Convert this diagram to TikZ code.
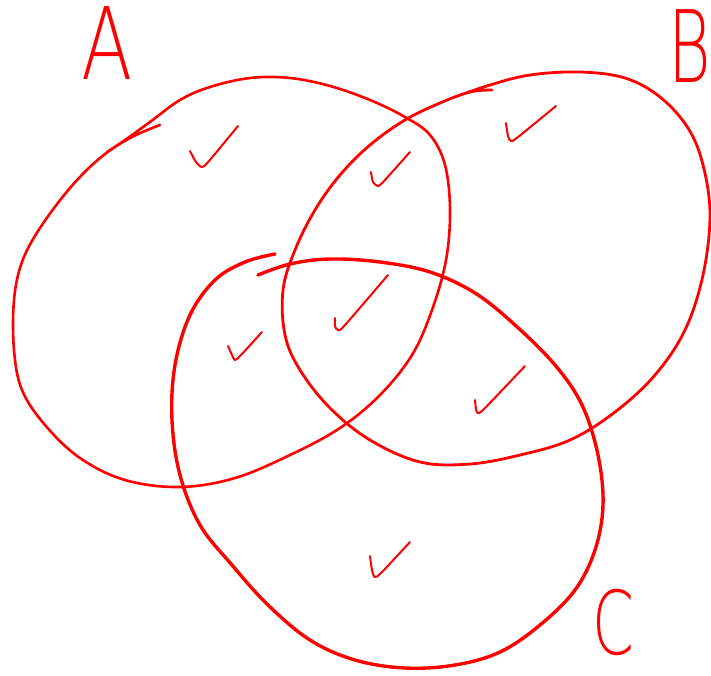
\documentclass[tikz,border=0pt]{standalone}
\usepackage{fontspec}
\setmainfont{DejaVu Sans}
\newfontfamily\handfont{DejaVu Sans ExtraLight}
\begin{document}
\begin{tikzpicture}[x=1pt,y=-1pt,
  ink/.style={draw=red, line width=#1, line cap=round, line join=round},
  ink/.default=2.5pt,
  tick/.style={draw=red, line width=2pt, line cap=round, line join=round},
  letter/.style={text=red, inner sep=0pt, font=\handfont\fontsize{100}{100}\selectfont}]
\useasboundingbox (0,0) rectangle (711,675);
% circle A
\draw[ink=2.6pt] plot[smooth, tension=0.6] coordinates {
 (160,125) (130,138) (100,158) (70,188) (40,228) (22,262) (14,300) (14,350) (22,390)
 (45,425) (80,458) (125,480) (180,487) (235,478) (290,455) (340,428) (380,395)
 (412,355) (432,310) (446,260) (450,210) (445,165) (430,135) (405,117) (370,100)
 (330,86) (290,78) (250,78) (210,87) (180,100) (150,122) (125,140) (107,152)};
% circle B
\draw[ink=2.8pt] plot[smooth, tension=0.6] coordinates {
 (492,90) (470,92) (440,103) (405,120) (370,145) (340,175) (315,210) (295,250)
 (283,290) (285,335) (300,370) (330,408) (370,440) (420,462) (470,464) (520,455)
 (570,440) (615,412) (655,375) (685,330) (703,275) (710,215) (703,165) (688,128)
 (660,97) (625,78) (580,72) (530,75) (490,85) (455,97)};
% circle C
\draw[ink=3.4pt] plot[smooth, tension=0.6] coordinates {
 (258,275) (290,264) (330,259) (380,262) (430,272) (475,293) (515,325) (555,365)
 (582,405) (598,455) (603,505) (595,550) (575,590) (540,625) (500,652) (455,665)
 (405,668) (355,660) (310,640) (268,605) (232,565) (200,525) (180,475) (172,420)
 (175,365) (190,315) (215,280) (245,262) (275,254)};
% check marks
\draw[tick] plot[smooth, tension=0.5] coordinates {(190,151) (196,162) (202,167) (209,161) (238,126)};
\draw[tick] plot[smooth, tension=0.5] coordinates {(371,172) (373,182) (378,186) (384,181) (410,152)};
\draw[tick] plot[smooth, tension=0.5] coordinates {(506,123) (508,136) (511,141) (518,137) (556,106)};
\draw[tick] plot[smooth, tension=0.5] coordinates {(228,346) (232,355) (235,360) (241,355) (262,332)};
\draw[tick] plot[smooth, tension=0.5] coordinates {(335,318) (335,326) (338,330) (345,325) (388,275)};
\draw[tick] plot[smooth, tension=0.5] coordinates {(475,400) (476,409) (478,413) (485,408) (525,366)};
\draw[tick] plot[smooth, tension=0.5] coordinates {(370,556) (372,570) (375,577) (382,572) (410,542)};
% letters
\node[letter, xscale=0.75] (la) at (107,43) {A};
\node[letter, xscale=0.65] (lb) at (690,46) {B};
\node[letter, xscale=0.6, yscale=0.88] (lc) at (613,622) {C};
\end{tikzpicture}
\end{document}
